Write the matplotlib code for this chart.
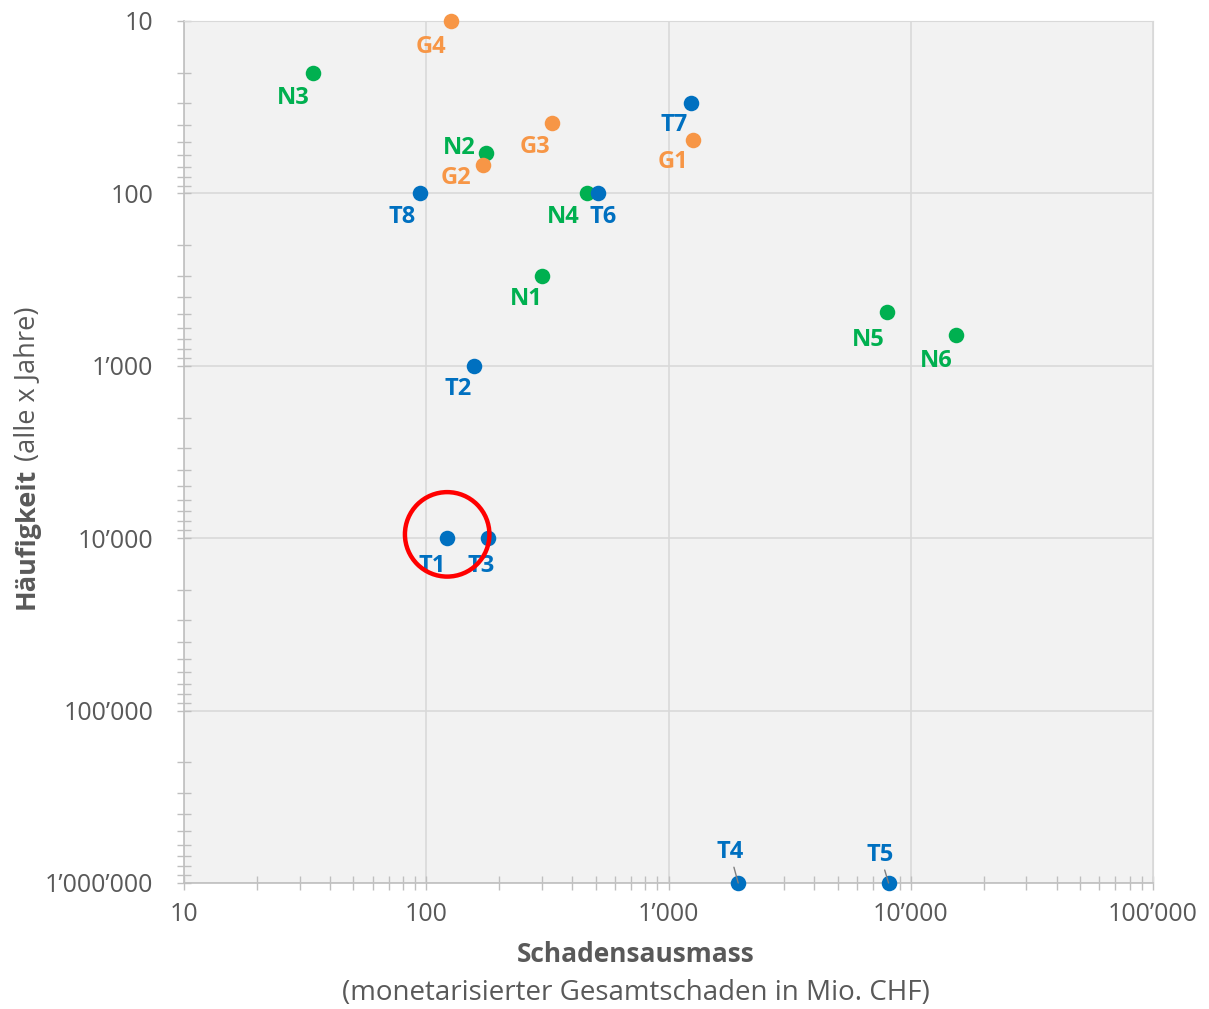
import matplotlib
matplotlib.use("Agg")
import matplotlib.pyplot as plt
from matplotlib.ticker import LogLocator, FuncFormatter, NullFormatter

plt.rcParams['font.family'] = ['Open Sans', 'DejaVu Sans']

# Scenario data: damage (Mio. CHF) and return period (years)
names = ["N1", "N2", "N3", "N4", "N5", "N6",
         "G1", "G2", "G3", "G4",
         "T1", "T2", "T3", "T4", "T5", "T6", "T7", "T8"]
damage = [300, 176, 34, 460, 8000, 15400,
          1260, 171, 330, 126,
          122, 157, 180, 1940, 8100, 510, 1240, 94]
frequency = [300, 58, 20, 100, 490, 660,
             49, 68, 39, 10,
             10000, 1000, 10000, 1000000, 1000000, 100, 30, 100]
groups = ["N"] * 6 + ["G"] * 4 + ["T"] * 8
group_colors = {"N": "#00B050", "G": "#F79646", "T": "#0070C0"}

# label offsets in points (dx, dy), relative to each marker
label_offsets = {
    "N1": (-11, -17), "N2": (-19, 3), "N3": (-14, -18), "N4": (-17, -17),
    "N5": (-14, -20), "N6": (-14, -19),
    "G1": (-14, -16), "G2": (-19, -10), "G3": (-12, -17), "G4": (-14, -19),
    "T1": (-11, -20), "T2": (-11, -17), "T3": (-5, -20), "T4": (-6, 22),
    "T5": (-6, 20), "T6": (4, -17), "T7": (-12, -16), "T8": (-13, -17),
}
leader_names = {"T4", "T5"}

x_ticks = [10, 100, 1000, 10000, 100000]
y_ticks = [10, 100, 1000, 10000, 100000, 1000000]

fig = plt.figure(figsize=(12.09, 10.09), dpi=100)
ax = fig.add_axes([184 / 1209, 1 - 883 / 1009, (1153 - 184) / 1209, (883 - 21) / 1009])
ax.set_facecolor("#f2f2f2")
ax.set_xscale("log")
ax.set_yscale("log")
ax.set_xlim(10, 100000)
ax.set_ylim(1000000, 10)

def swiss(v, pos=None):
    return f"{int(round(v)):,}".replace(",", "\u2019")

ax.xaxis.set_major_locator(LogLocator(base=10))
ax.yaxis.set_major_locator(LogLocator(base=10))
ax.xaxis.set_minor_locator(LogLocator(base=10, subs=range(2, 10)))
ax.yaxis.set_minor_locator(LogLocator(base=10, subs=range(2, 10)))
ax.xaxis.set_major_formatter(FuncFormatter(swiss))
ax.yaxis.set_major_formatter(FuncFormatter(swiss))
ax.xaxis.set_minor_formatter(NullFormatter())
ax.yaxis.set_minor_formatter(NullFormatter())
ax.set_xticks(x_ticks)
ax.set_yticks(y_ticks)

ax.grid(True, which="major", color="#d9d9d9", linewidth=1.2)
ax.set_axisbelow(True)
for side in ["top", "right"]:
    ax.spines[side].set_color("#d9d9d9")
for side in ["left", "bottom"]:
    ax.spines[side].set_color("#bfbfbf")
    ax.spines[side].set_linewidth(1.2)

ax.tick_params(which="both", direction="inout", length=10, width=1, color="#bfbfbf")
ax.tick_params(axis="both", which="major", labelsize=18, labelcolor="#595959")
ax.tick_params(axis="x", which="major", pad=9)
ax.tick_params(axis="y", which="major", pad=17)

for n, xv, yv, g in zip(names, damage, frequency, groups):
    c = group_colors[g]
    ax.scatter([xv], [yv], s=125, color=c, zorder=3, clip_on=False, linewidths=0)
    dx, dy = label_offsets[n]
    if n in leader_names:
        ax.annotate(n, xy=(xv, yv), xytext=(dx, dy), textcoords="offset points",
                    ha="center", va="center", fontsize=17, fontweight="bold", color=c,
                    arrowprops=dict(arrowstyle="-", color="#7f7f7f", lw=1,
                                    shrinkA=13, shrinkB=0), zorder=4)
    else:
        ax.annotate(n, xy=(xv, yv), xytext=(dx, dy), textcoords="offset points",
                    ha="center", va="center", fontsize=17, fontweight="bold", color=c,
                    zorder=4)

# highlight ring around T1
t1 = names.index("T1")
ax.scatter([damage[t1]], [frequency[t1] * 0.95], s=3700, facecolors="none",
           edgecolors="#ff0000", linewidths=3.2, zorder=5)

# axis titles
fig.text(636 / 1209, 1 - 955 / 1009, "Schadensausmass", ha="center", va="center",
         fontsize=19, fontweight="bold", color="#595959")
fig.text(636 / 1209, 1 - 993 / 1009, "(monetarisierter Gesamtschaden in Mio. CHF)",
         ha="center", va="center", fontsize=20, color="#595959")

fig.canvas.draw()
renderer = fig.canvas.get_renderer()
t_bold = fig.text(27 / 1209, 1 - 609 / 1009, "Häufigkeit", rotation=90,
                  ha="center", va="bottom", fontsize=19.5, fontweight="bold", color="#595959")
bb = t_bold.get_window_extent(renderer)
fig.text(27 / 1209, (bb.y1 + 7) / fig.bbox.height, "(alle x Jahre)", rotation=90,
         ha="center", va="bottom", fontsize=19.5, color="#595959")

fig.savefig("out.png", dpi=100, facecolor="white")
